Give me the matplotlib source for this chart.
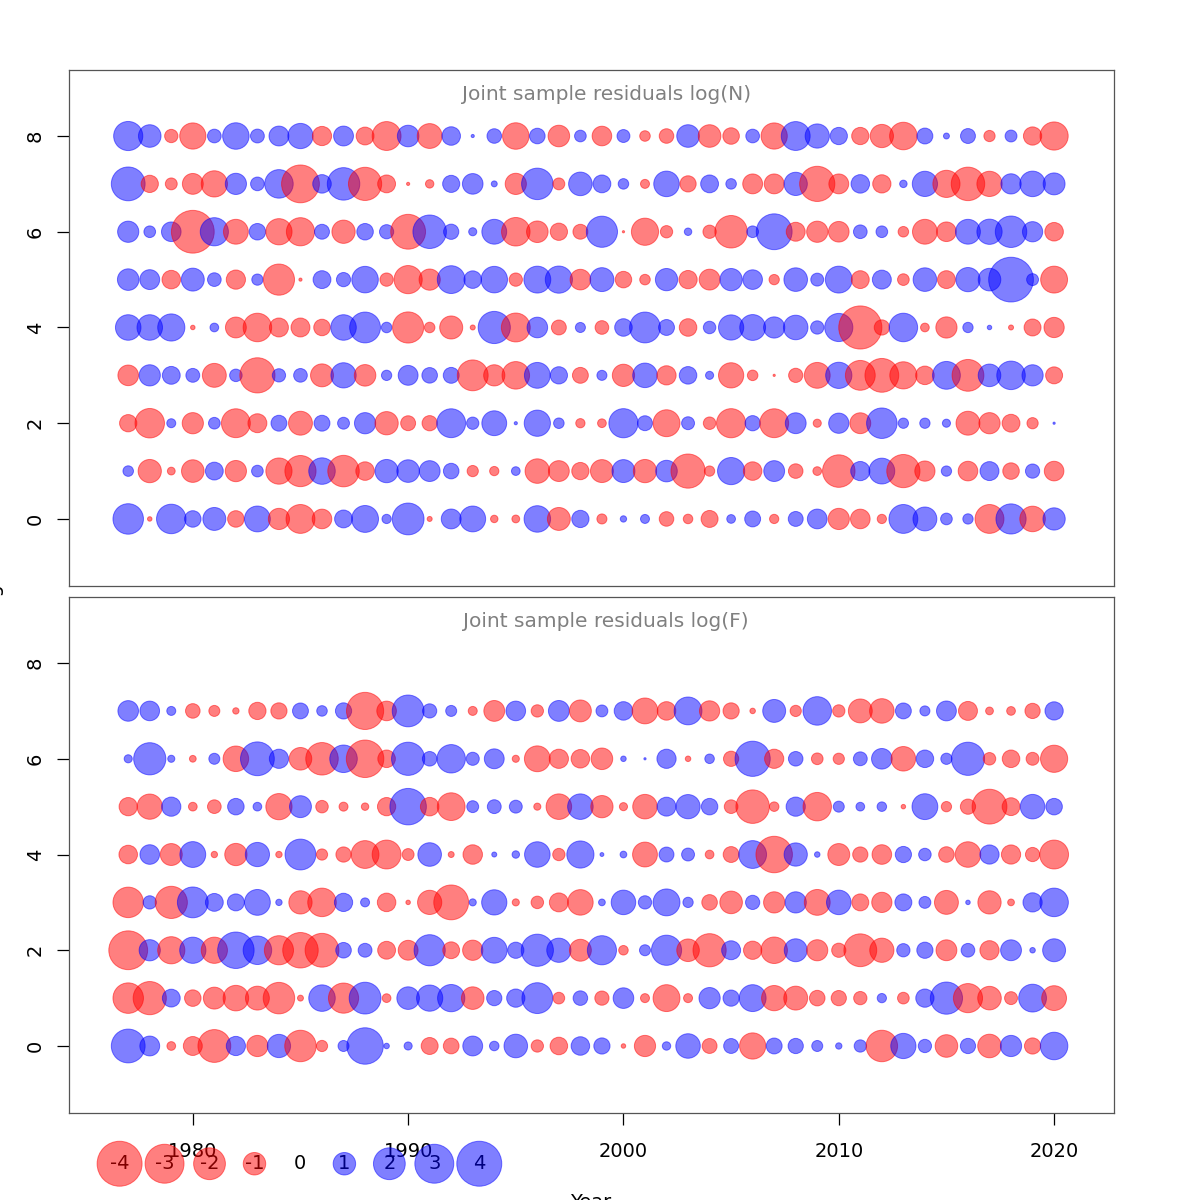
import numpy as np
import matplotlib
matplotlib.use("Agg")
import matplotlib.pyplot as plt

years = np.arange(1977, 2021)

# residuals log(N), one list per age (1977..2020)
n_age0 = [1.84, -0.04, 1.72, 0.54, 1.04, -0.54, 1.32, -0.89, -1.65, -0.76,
          0.63, 1.43, 0.17, 2.0, -0.05, 0.78, 1.32, -0.11, -0.12, 1.39,
          -1.04, 0.59, -0.2, 0.08, 0.16, -0.42, -0.18, -0.57, 0.15, 0.5,
          -0.17, 0.44, 0.77, -0.89, -0.76, -0.17, 1.65, 1.13, 0.27, 0.21,
          -1.65, 1.8, -1.29, 0.98]
n_age1 = [0.22, -1.07, -0.12, -1.01, 0.63, -0.89, 0.27, -1.36, -1.92, 1.39,
          -1.96, -0.68, 1.07, 1.01, 0.86, 0.48, -0.25, -0.17, 0.15, -1.19,
          -0.86, -0.59, -1.04, 1.04, -1.07, 0.92, -2.31, -0.21, 1.46, -0.68,
          0.86, -0.42, -0.15, -2.09, 0.73, 1.32, -2.18, -0.81, 0.21, -0.76,
          0.71, -0.54, 0.4, -0.76]
n_age2 = [-0.59, -1.72, 0.16, -0.89, 0.27, -1.65, -0.71, 0.5, -1.13, 0.5,
          0.28, 0.89, -1.07, -0.44, -0.46, 1.65, 0.3, 1.22, 0.02, 1.36,
          0.22, -0.17, -0.15, 1.68, 0.44, -1.43, 0.33, -0.31, -1.68, 0.46,
          -1.65, 0.86, -0.13, 0.81, -0.86, 1.84, 0.21, 0.21, 0.13, -1.13,
          -0.89, -0.63, -0.25, 0.01]
n_age3 = [-0.84, 0.89, 0.63, 0.38, -1.13, 0.31, -2.45, 0.35, 0.37, -1.04,
          1.26, -0.92, 0.21, 0.78, 0.48, 0.5, -1.88, -0.89, -1.5, 1.32,
          0.59, -0.5, 0.2, -0.98, 1.19, -0.73, 0.61, 0.13, -1.26, -0.22,
          -0.01, -0.4, -1.32, 1.36, -1.76, -2.26, -1.46, -0.68, 1.53, -2.0,
          1.01, 1.61, 0.89, -0.57]
n_age4 = [1.29, 1.29, 1.46, -0.04, 0.15, -0.86, -1.61, -0.71, -0.71, -0.54,
          1.29, 1.88, 0.22, -1.92, -0.22, -1.05, -0.05, 2.05, -1.65, 0.84,
          -0.44, 0.2, -0.37, 0.61, 1.88, 0.5, -0.61, 0.31, 1.26, 1.32,
          0.89, 1.19, 0.35, 1.57, -3.68, -0.46, 1.61, -0.15, -0.89, 0.21,
          0.04, -0.05, -0.57, -0.81]
n_age5 = [0.92, 0.78, -0.68, 1.04, 0.37, -0.73, 0.25, -1.92, -0.02, 0.63,
          0.4, 1.39, -0.35, -1.57, -0.89, 1.53, 0.61, 1.39, -0.35, 1.43,
          1.46, -0.84, 1.13, -0.54, -0.22, 0.98, -0.66, -0.86, 0.98, 0.76,
          -0.21, 1.1, 0.33, 1.43, -0.63, 0.71, -0.27, 1.1, -0.63, 1.16,
          1.01, 3.96, 0.28, -1.43]
n_age6 = [0.89, 0.27, 0.76, -3.62, 1.57, -1.22, 0.54, -1.36, -1.57, 0.44,
          -1.07, 0.54, 0.4, -2.4, 2.22, 0.46, 0.13, 1.22, -1.61, -0.92,
          -0.59, -0.44, 1.92, -0.01, -1.46, -0.3, 0.11, -0.35, -2.09, 0.27,
          2.54, -0.71, -0.89, -0.84, 0.37, 0.27, -0.22, -1.22, -0.76, 1.22,
          1.26, 1.96, 0.81, -0.68]
n_age7 = [2.26, -0.59, -0.28, -0.86, -1.36, 0.89, 0.37, 1.61, -2.83, 0.68,
          2.09, -2.18, -0.63, -0.02, -0.14, 0.58, 0.84, 0.07, -0.89, 1.96,
          -0.28, 1.1, 0.63, 0.22, -0.16, 1.29, -0.52, 0.63, 0.22, -0.78,
          -0.78, 1.07, -2.45, -0.78, 0.68, -0.66, 0.11, 1.26, -1.46, -2.22,
          -1.26, 0.81, 1.29, 0.95]
n_age8 = [1.68, 1.01, -0.35, -1.36, 0.37, 1.39, 0.38, 0.78, 1.26, -0.73,
          0.78, -0.63, -1.65, 0.92, -1.22, 0.68, 0.02, 0.42, -1.39, 0.48,
          -0.92, 0.27, -0.76, 0.33, -0.22, -0.42, 1.01, -1.01, -0.54, 0.37,
          -1.36, 1.65, 1.16, 0.59, -0.59, -1.07, -1.5, 0.5, 0.07, 0.44,
          -0.25, 0.28, -0.66, -1.57]

# residuals log(F)
f_age0 = [2.26, 0.78, -0.15, -0.71, -2.13, 0.73, -0.89, 1.07, -1.96, -0.25,
          0.24, 2.63, 0.06, 0.13, -0.57, -0.49, 0.78, 0.18, 1.1, -0.3,
          -0.61, 0.68, 0.52, -0.04, -0.89, 0.14, 1.19, -0.44, 0.44, -1.36,
          0.5, 0.46, 0.24, 0.08, 0.3, -1.96, 1.26, 0.35, -1.01, 0.46,
          -1.1, 0.89, -0.52, 1.5]
f_age1 = [-1.84, -2.18, 0.63, -0.54, -0.95, -1.29, -1.13, -1.96, -0.07, 1.39,
          -1.8, 2.0, -0.15, 1.01, 1.36, 1.47, -1.01, 0.46, 0.66, 1.88,
          -0.27, 0.42, -0.4, 0.84, -0.16, -1.43, -0.16, 0.89, 0.52, 1.43,
          -1.26, -1.13, -0.48, -0.46, -0.35, 0.17, -0.27, 0.66, 2.05, -1.68,
          -1.1, -0.33, 1.53, -1.22]
f_age2 = [-2.98, 0.89, -1.46, 1.36, -1.36, 2.63, 1.61, -1.68, -2.49, -2.26,
          0.48, 0.38, -0.63, -0.78, 1.92, -0.56, -0.81, 1.32, 0.52, 2.05,
          1.16, -0.95, 1.68, -0.18, 0.24, 1.8, -1.01, -2.18, 0.71, -0.66,
          -1.39, 1.04, -0.88, -0.4, -2.13, -1.16, 0.35, 0.52, -0.86, 0.37,
          -0.73, 0.86, 0.06, 1.04]
f_age3 = [-1.84, 0.35, -2.05, 1.88, 0.63, 0.57, 1.32, 0.08, -1.07, -1.61,
          0.66, 0.16, -0.68, -0.04, -1.16, -2.4, 0.1, 1.26, -0.1, -0.31,
          -0.71, -1.29, 0.09, 1.19, 0.35, 1.43, 0.21, -0.48, -1.01, 0.4,
          -0.89, 0.89, -1.32, 1.19, -0.57, -0.81, 0.57, 0.28, -1.13, 0.04,
          -1.07, -0.09, 0.73, 1.61]
f_age4 = [-0.68, 0.76, -0.95, 1.32, -0.08, -0.98, 1.16, -0.08, 1.88, -0.25,
          -0.46, -1.53, -1.65, -0.28, 1.1, -0.07, -0.75, 0.05, 0.11, 1.29,
          -0.3, 1.46, 0.03, 0.09, -1.22, 0.44, 0.33, -0.15, -0.5, 1.53,
          -2.63, 1.07, 0.06, -0.95, -0.46, -0.76, 0.52, 0.31, -0.48, -1.29,
          0.73, -0.73, -0.4, -1.65]
f_age5 = [-0.66, -1.26, 0.73, -0.15, -0.37, 0.54, 0.15, -1.36, 0.95, -0.31,
          -0.16, -0.11, -0.66, 2.63, -0.68, -1.52, 0.28, 0.38, 0.33, -0.1,
          -1.29, 1.29, -0.98, -0.13, -1.19, 0.71, 1.16, 0.54, -0.37, -2.22,
          -0.18, 0.73, -1.6, 0.24, 0.15, 0.18, -0.04, 1.32, -0.21, -0.46,
          -2.4, -0.63, 1.19, 0.54]
f_age6 = [0.13, 2.05, 0.1, -0.09, 0.24, -1.29, 2.26, 0.73, -1.01, -2.09,
          1.5, -2.78, -0.61, 2.18, 0.42, 1.6, 0.34, 0.78, -0.1, -1.32,
          -0.73, -0.68, -0.92, 0.06, 0.01, 0.73, -0.06, 0.18, -0.46, 2.45,
          -0.73, 0.42, -0.27, -0.25, 0.38, 0.84, -1.19, 0.61, 0.25, 2.18,
          -0.31, -0.61, -0.33, -1.46]
f_age7 = [0.84, 0.76, 0.16, -0.42, -0.24, -0.08, -0.59, -0.52, 0.5, 0.22,
          0.52, -2.73, -0.76, 2.0, 0.4, 0.24, -0.16, -0.86, 0.76, -0.3,
          0.86, -0.95, 0.28, 0.68, -1.32, -0.68, 1.53, -0.81, -0.52, -0.06,
          1.04, -0.25, 1.61, -0.3, -1.13, -1.19, 0.5, 0.2, 0.78, -0.71,
          -0.12, -0.15, -0.46, 0.66]

resid_N = [n_age0, n_age1, n_age2, n_age3, n_age4, n_age5, n_age6, n_age7, n_age8]
resid_F = [f_age0, f_age1, f_age2, f_age3, f_age4, f_age5, f_age6, f_age7]

legend_vals = [-4, -3, -2, -1, 0, 1, 2, 3, 4]

RED = (1, 0, 0, 0.5)
BLUE = (0, 0, 1, 0.5)
SCALE = 262.0   # marker area (pt^2) per unit of |residual|


def bubbles(ax, resid):
    for age, row in enumerate(resid):
        row = np.asarray(row)
        cols = [RED if v < 0 else BLUE for v in row]
        ax.scatter(years, np.full(len(row), age), s=SCALE * np.abs(row),
                   c=cols, edgecolors=cols, linewidths=0.7)


def style(ax, title):
    ax.set_xlim(1974.25, 2022.78)
    ax.set_ylim(-1.4, 9.38)
    ax.set_yticks([0, 2, 4, 6, 8])
    ax.set_xticks([1980, 1990, 2000, 2010, 2020])
    ax.tick_params(axis='both', length=8.5, width=0.9, labelsize=14,
                   color='black')
    ax.tick_params(axis='x', pad=12.5)
    ax.tick_params(axis='y', labelrotation=90, pad=9)
    for lab in ax.get_yticklabels():
        lab.set_verticalalignment('center')
    for sp in ax.spines.values():
        sp.set_color('#555555')
        sp.set_linewidth(0.9)
    ax.text(0.514, 0.952, title, transform=ax.transAxes, ha='center',
            va='center', fontsize=14.5, color='#808080')


fig = plt.figure(figsize=(12, 12), dpi=100)
ax1 = fig.add_axes([0.0575, 0.5117, 0.8708, 0.43])
ax2 = fig.add_axes([0.0575, 0.0725, 0.8708, 0.43])

bubbles(ax1, resid_N)
bubbles(ax2, resid_F)
style(ax1, "Joint sample residuals log(N)")
style(ax2, "Joint sample residuals log(F)")
ax1.tick_params(axis='x', bottom=False, labelbottom=False)

# bubble-size key below the lower panel
leg_x = 1976.6 + 2.088 * np.arange(len(legend_vals))
leg_y = -2.46
leg_cols = [RED if v < 0 else BLUE for v in legend_vals]
ax2.scatter(leg_x, np.full(len(leg_x), leg_y), s=SCALE * np.abs(legend_vals),
            c=leg_cols, edgecolors=leg_cols, linewidths=0.7,
            clip_on=False, zorder=5)
for xv, v in zip(leg_x, legend_vals):
    ax2.text(xv, leg_y, str(v), ha='center', va='center', fontsize=14,
             color='black', clip_on=False, zorder=4)

fig.text(-0.005, 0.508, "Age", rotation=90, ha='center', va='center',
         fontsize=14)
fig.text(0.4925, 0.0058, "Year", ha='center', va='top', fontsize=14)

fig.savefig("out.png", dpi=100)
